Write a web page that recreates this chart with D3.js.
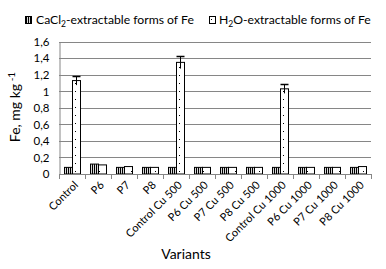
<!DOCTYPE html>
<html><head><meta charset="utf-8">
<script src="https://cdn.jsdelivr.net/npm/d3@7"></script>
<style>body{margin:0;background:#fff}svg{display:block;font-family:Lato,"Open Sans",sans-serif}</style>
</head><body>
<svg id="c" width="386" height="269"></svg>
<script>
const categories = ["Control","P6","P7","P8","Control Cu 500","P6 Cu 500","P7 Cu 500","P8 Cu 500","Control Cu 1000","P6 Cu 1000","P7 Cu 1000","P8 Cu 1000"];
const cacl2 = [0.08,0.12,0.08,0.08,0.08,0.08,0.08,0.08,0.08,0.08,0.08,0.08];
const h2o   = [1.13,0.11,0.09,0.08,1.35,0.08,0.08,0.08,1.03,0.08,0.08,0.09];
const cacl2Err = [0,0,0,0,0,0,0,0,0,0,0,0];
const h2oErr   = [0.055,0,0,0,0.075,0,0,0,0.055,0,0,0];
const yTicks = [0,0.2,0.4,0.6,0.8,1,1.2,1.4,1.6];

const svg = d3.select("#c");
const L=59, R=371, T=41.7, B=174;
const x = d3.scaleBand().domain(categories).range([L,R]).paddingInner(0).paddingOuter(0);
const x1 = d3.scaleBand().domain([0,1]).range([0,x.bandwidth()]).paddingInner(0).paddingOuter(0.7);
const y = d3.scaleLinear().domain([0,1.6]).range([B,T]);

const defs = svg.append("defs");
const p1 = defs.append("pattern").attr("id","stripes").attr("patternUnits","userSpaceOnUse").attr("width",2).attr("height",4);
p1.append("rect").attr("width",2).attr("height",4).attr("fill","#d8d8d8");
p1.append("rect").attr("width",1).attr("height",4).attr("fill","#000");
const p2 = defs.append("pattern").attr("id","dots").attr("patternUnits","userSpaceOnUse").attr("width",8).attr("height",8);
p2.append("rect").attr("width",8).attr("height",8).attr("fill","#fff");
p2.append("rect").attr("x",3).attr("y",3).attr("width",1).attr("height",1).attr("fill","#000");

// grid
svg.append("g").selectAll("line").data(yTicks.slice(1)).join("line")
  .attr("x1",L).attr("x2",R).attr("y1",d=>Math.round(y(d))+0.5).attr("y2",d=>Math.round(y(d))+0.5)
  .attr("stroke","#868686").attr("stroke-width",1);

// y axis
const yAxis = d3.axisLeft(y).tickValues(yTicks).tickSize(0).tickPadding(10)
  .tickFormat(d=>String(d).replace(".",","));
const ga = svg.append("g").attr("transform",`translate(${L+0.5},0)`).call(yAxis);
ga.select(".domain").attr("stroke","#868686");
ga.selectAll("text").attr("font-size",11.5).attr("font-family","Lato").attr("fill","#000");

// bars
const series = [{vals:cacl2,err:cacl2Err,fill:"url(#stripes)"},{vals:h2o,err:h2oErr,fill:"url(#dots)"}];
series.forEach((s,si)=>{
  const g = svg.append("g");
  g.selectAll("rect").data(categories).join("rect")
    .attr("x",(d)=>Math.round(x(d)+x1(si))+0.5)
    .attr("y",(d,i)=>y(s.vals[i]))
    .attr("width",Math.round(x1.bandwidth()))
    .attr("height",(d,i)=>B-y(s.vals[i]))
    .attr("fill",s.fill).attr("stroke","#000").attr("stroke-width",1);
  categories.forEach((d,i)=>{
    if(!s.err[i]) return;
    const cx = Math.round(x(d)+x1(si))+0.5+Math.round(x1.bandwidth())/2;
    const y0=y(s.vals[i]-s.err[i]), y1=y(s.vals[i]+s.err[i]);
    g.append("line").attr("x1",cx).attr("x2",cx).attr("y1",y0).attr("y2",y1).attr("stroke","#000");
    g.append("line").attr("x1",cx-4).attr("x2",cx+4).attr("y1",Math.round(y1)+0.5).attr("y2",Math.round(y1)+0.5).attr("stroke","#000").attr("stroke-width",1.5);
  });
});

// x axis
svg.append("line").attr("x1",L).attr("x2",R).attr("y1",B+0.5).attr("y2",B+0.5).attr("stroke","#868686");
svg.append("g").selectAll("line").data(categories.concat(["_end"])).join("line")
  .attr("x1",(d,i)=>Math.round(L+i*x.step())+0.5).attr("x2",(d,i)=>Math.round(L+i*x.step())+0.5)
  .attr("y1",B).attr("y2",B+5).attr("stroke","#868686");
svg.append("g").selectAll("text").data(categories).join("text")
  .attr("transform",d=>`translate(${x(d)+x.bandwidth()/2+4},${B+9}) rotate(-45)`)
  .attr("text-anchor","end").attr("font-size",11).attr("dy","0.35em").text(d=>d);

// axis titles
svg.append("text").attr("x",186).attr("y",259).attr("text-anchor","middle").attr("font-size",14).text("Variants");
const yt = svg.append("text").attr("transform","translate(20,107) rotate(-90)").attr("text-anchor","middle").attr("font-size",14);
yt.append("tspan").text("Fe, mg kg");
yt.append("tspan").attr("dy",-5).attr("font-size",10).text(" -1");

// legend
const lg = svg.append("g");
lg.append("rect").attr("x",25.5).attr("y",16.5).attr("width",6).attr("height",7).attr("fill","url(#stripes)").attr("stroke","#000");
const t1 = lg.append("text").attr("x",36).attr("y",24).attr("font-size",12.2);
t1.append("tspan").text("CaCl");
t1.append("tspan").attr("dy",3).attr("font-size",8.5).text("2");
t1.append("tspan").attr("dy",-3).text("-extractable forms of Fe");
lg.append("rect").attr("x",209.5).attr("y",16.5).attr("width",6).attr("height",7).attr("fill","url(#dots)").attr("stroke","#000");
const t2 = lg.append("text").attr("x",219).attr("y",24).attr("font-size",12.2);
t2.append("tspan").text("H");
t2.append("tspan").attr("dy",3).attr("font-size",8.5).text("2");
t2.append("tspan").attr("dy",-3).text("O-extractable forms of Fe");
</script>
</body></html>
